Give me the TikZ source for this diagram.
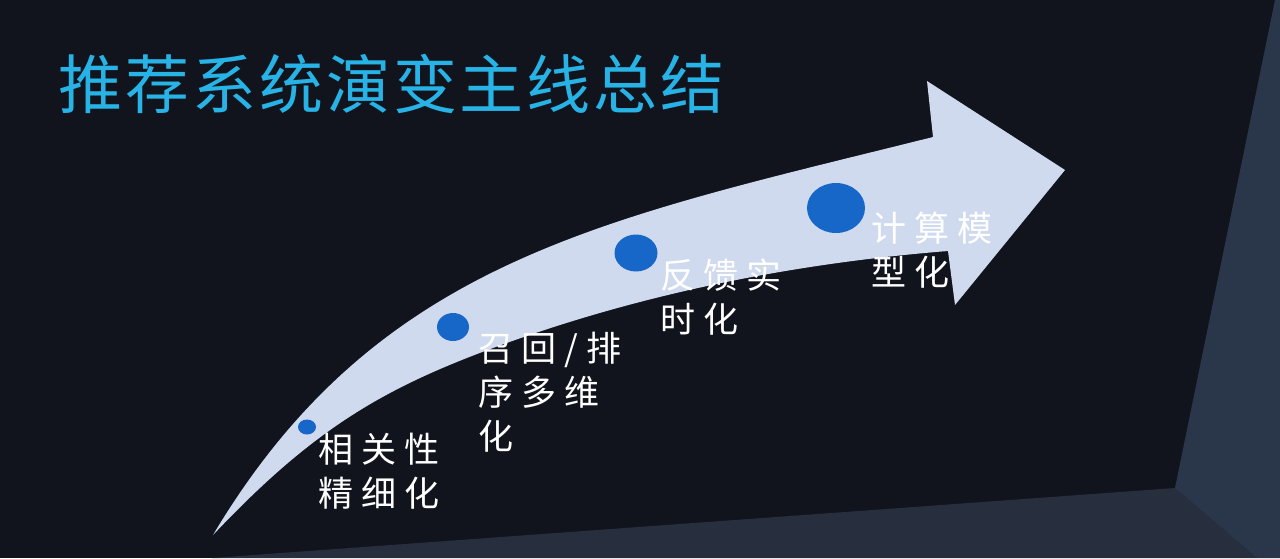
\documentclass[tikz,border=0pt]{standalone}
\usepackage{fontspec}
\usetikzlibrary{shapes.geometric}
\newfontfamily\cjktitle{Noto Sans CJK SC}[LetterSpace=4.6]
\newfontfamily\cjklab{Noto Sans CJK SC}[LetterSpace=23]
\definecolor{bgdark}{HTML}{11141C}
\definecolor{bgstrip}{HTML}{272E3D}
\definecolor{bgpanel}{HTML}{2A374B}
\definecolor{arrowfill}{HTML}{D0DAEE}
\definecolor{dotblue}{HTML}{1767C9}
\definecolor{titlecyan}{HTML}{27B3E6}
\tikzset{
  dot/.style={ellipse, fill=dotblue, inner sep=0pt},
  lab/.style={anchor=north west, inner sep=0pt, text=white, align=left,
    font=\cjklab\fontsize{17.5pt}{22pt}\selectfont},
  titletext/.style={anchor=west, inner sep=0pt, text=titlecyan,
    font=\cjktitle\fontsize{32pt}{38pt}\selectfont}
}
\begin{document}
\begin{tikzpicture}[x=0.5pt,y=-0.5pt]
\useasboundingbox (0,0) rectangle (1280,558);
% background
\fill[bgdark] (0,0) rectangle (1280,558);
\fill[bgstrip] (212,558) -- (1175,488) -- (1257,558) -- cycle;
\fill[bgpanel] (1275,0) -- (1280,0) -- (1280,558) -- (1257,558) -- (1175,488) -- cycle;
% title
\node[titletext] (title) at (58,84) {推荐系统演变主线总结};
% curved arrow
\fill[arrowfill] (213,535) .. controls (378,259) and (603,219.5) .. (933,137)
  -- (927,81) -- (1065,170) -- (955,305) -- (948,251)
  .. controls (798,263) and (643,292.5) .. (493,348)
  .. controls (383,388.7) and (313,429) .. (213,535)
  -- cycle;
% dots
\node[dot, minimum width=9pt, minimum height=7.5pt] (d1) at (307,427) {};
\node[dot, minimum width=16pt, minimum height=14pt] (d2) at (453,327) {};
\node[dot, minimum width=21.5pt, minimum height=18.5pt] (d3) at (636,253) {};
\node[dot, minimum width=29pt, minimum height=25pt] (d4) at (836,208) {};
% labels
\node[lab] (l1) at (318,433) {相关性\\精细化};
\node[lab] (l2) at (478,332) {召回/排\\序多维\\化};
\node[lab] (l3) at (660,258) {反馈实\\时化};
\node[lab] (l4) at (871,212) {计算模\\型化};
\end{tikzpicture}
\end{document}
